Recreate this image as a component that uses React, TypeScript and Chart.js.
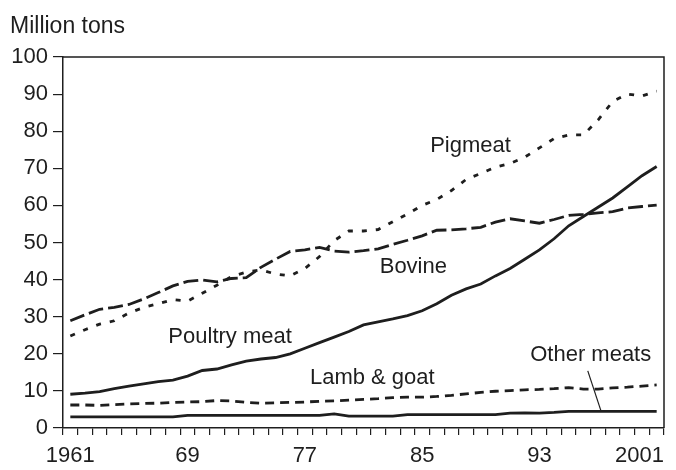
import React, { useEffect, useRef } from 'react';
import { Chart, registerables } from 'chart.js';

Chart.register(...registerables);

const years = [
  1961, 1962, 1963, 1964, 1965, 1966, 1967, 1968, 1969, 1970,
  1971, 1972, 1973, 1974, 1975, 1976, 1977, 1978, 1979, 1980,
  1981, 1982, 1983, 1984, 1985, 1986, 1987, 1988, 1989, 1990,
  1991, 1992, 1993, 1994, 1995, 1996, 1997, 1998, 1999, 2000, 2001,
];
const tickYears = [1961, 1969, 1977, 1985, 1993, 2001];
const tickLabels = ['1961', '69', '77', '85', '93', '2001'];

const pigmeat = [
  24.8, 26.5, 28.0, 28.9, 31.0, 32.5, 33.5, 34.6, 34.2, 36.3,
  38.5, 40.8, 42.0, 42.6, 41.5, 41.0, 43.0, 46.2, 50.5, 53.1,
  53.1, 53.5, 55.6, 57.7, 60.0, 61.6, 64.0, 67.0, 68.6, 70.3,
  71.3, 73.0, 75.5, 78.0, 79.0, 79.0, 83.0, 88.0, 90.0, 89.5, 90.8,
];
const bovine = [
  28.9, 30.5, 32.0, 32.5, 33.3, 34.8, 36.5, 38.3, 39.5, 39.9,
  39.4, 40.3, 40.5, 43.3, 45.5, 47.6, 48.0, 48.7, 47.7, 47.4,
  47.8, 48.3, 49.5, 50.6, 51.8, 53.3, 53.4, 53.7, 54.1, 55.5,
  56.4, 55.8, 55.2, 56.2, 57.3, 57.6, 58.0, 58.3, 59.3, 59.7, 60.1,
];
const poultry = [
  9.1, 9.4, 9.8, 10.6, 11.3, 11.9, 12.5, 12.9, 14.0, 15.5,
  15.9, 17.0, 18.0, 18.6, 19.0, 20.0, 21.5, 23.0, 24.5, 26.0,
  27.8, 28.6, 29.4, 30.3, 31.6, 33.5, 35.8, 37.5, 38.8, 41.0,
  43.0, 45.5, 48.0, 51.0, 54.5, 57.0, 59.5, 62.0, 65.0, 68.0, 70.5,
];
const lambGoat = [
  6.2, 6.2, 6.1, 6.3, 6.5, 6.6, 6.7, 6.9, 7.0, 7.1,
  7.4, 7.3, 6.9, 6.7, 6.8, 6.9, 7.0, 7.2, 7.3, 7.5,
  7.7, 7.9, 8.2, 8.3, 8.3, 8.5, 8.8, 9.2, 9.6, 9.9,
  10.1, 10.3, 10.4, 10.6, 10.9, 10.5, 10.5, 10.8, 11.0, 11.3, 11.6,
];
const otherMeats = [
  3.0, 3.0, 3.0, 3.0, 3.0, 3.0, 3.0, 3.0, 3.4, 3.4,
  3.4, 3.4, 3.4, 3.4, 3.4, 3.4, 3.4, 3.4, 3.8, 3.2,
  3.2, 3.2, 3.2, 3.6, 3.6, 3.6, 3.6, 3.6, 3.6, 3.6,
  4.0, 4.1, 4.0, 4.2, 4.5, 4.5, 4.5, 4.5, 4.5, 4.5, 4.5,
];

const annotationTexts = ['Pigmeat', 'Bovine', 'Poultry meat', 'Lamb & goat', 'Other meats'];
const annotationYears = [1988.3, 1984.4, 1971.9, 1981.6, 1996.5];
const annotationValues = [76.0, 43.4, 24.5, 13.5, 19.7];
const leaderYears = [1996.3, 1997.2];
const leaderValues = [15.4, 4.6];

const FONT = '"Liberation Sans", Arial, Helvetica, sans-serif';
const INK = '#1e1e1e';

const overlayPlugin = {
  id: 'overlay',
  afterDraw(chart: any) {
    const { ctx, chartArea, scales } = chart;
    const xs = scales.x;
    const ys = scales.y;
    const xOf = (yr: number) => xs.getPixelForValue(yr - years[0]);
    ctx.save();
    // frame top and right
    ctx.strokeStyle = INK;
    ctx.lineWidth = 1.5;
    ctx.beginPath();
    ctx.moveTo(chartArea.left, chartArea.top);
    ctx.lineTo(chartArea.right, chartArea.top);
    ctx.lineTo(chartArea.right, chartArea.bottom);
    ctx.stroke();

    ctx.fillStyle = INK;
    // axis unit title
    ctx.font = `23px ${FONT}`;
    ctx.textAlign = 'left';
    ctx.textBaseline = 'alphabetic';
    ctx.fillText('Million tons', 10, 33);

    // x tick labels
    ctx.font = `22px ${FONT}`;
    ctx.textBaseline = 'middle';
    ctx.textAlign = 'center';
    tickYears.forEach((yr, i) => {
      const txt = tickLabels[i];
      const w = ctx.measureText(txt).width;
      let cx = xOf(yr);
      if (cx + w / 2 > chartArea.right) cx = chartArea.right - w / 2;
      ctx.fillText(txt, cx, chartArea.bottom + 28);
    });

    // series annotations
    annotationTexts.forEach((txt, i) => {
      ctx.fillText(txt, xOf(annotationYears[i]), ys.getPixelForValue(annotationValues[i]));
    });

    // leader line for "Other meats"
    ctx.lineWidth = 1.2;
    ctx.beginPath();
    ctx.moveTo(xOf(leaderYears[0]), ys.getPixelForValue(leaderValues[0]));
    ctx.lineTo(xOf(leaderYears[1]), ys.getPixelForValue(leaderValues[1]));
    ctx.stroke();
    ctx.restore();
  },
};

function series(data: number[], dash: number[]) {
  return {
    data,
    borderColor: INK,
    borderWidth: 2.8,
    borderDash: dash,
    borderCapStyle: 'butt',
    pointRadius: 0,
    pointHoverRadius: 0,
    fill: false,
    tension: 0,
  };
}

export default function App() {
  const canvasRef = useRef<HTMLCanvasElement | null>(null);

  useEffect(() => {
    if (!canvasRef.current) return;
    const chart = new Chart(canvasRef.current, {
      type: 'line',
      data: {
        labels: years.map(String),
        datasets: [
          { label: 'Pigmeat', ...series(pigmeat, [5, 9]) },
          { label: 'Bovine', ...series(bovine, [15, 5]) },
          { label: 'Poultry meat', ...series(poultry, []) },
          { label: 'Lamb & goat', ...series(lambGoat, [9, 6]) },
          { label: 'Other meats', ...series(otherMeats, []) },
        ] as any,
      },
      options: {
        animation: false,
        responsive: false,
        devicePixelRatio: 1,
        layout: { padding: { left: 0, right: 12, top: 57, bottom: 0 } },
        plugins: {
          legend: { display: false },
          tooltip: { enabled: false },
          title: { display: false },
        },
        events: [],
        scales: {
          x: {
            type: 'category',
            offset: true,
            grid: {
              display: true,
              drawOnChartArea: false,
              drawTicks: true,
              tickLength: 7,
              offset: true,
              color: INK,
              lineWidth: 1.2,
            },
            border: { display: true, color: INK, width: 1.5 },
            ticks: { display: false, autoSkip: false },
            afterFit: (scale: any) => {
              scale.height = 42;
            },
          },
          y: {
            min: 0,
            max: 100,
            ticks: {
              stepSize: 10,
              color: INK,
              padding: 5,
              font: { family: FONT, size: 22 },
            },
            grid: {
              display: true,
              drawOnChartArea: false,
              drawTicks: true,
              tickLength: 10,
              color: INK,
              lineWidth: 1.2,
            },
            border: { display: true, color: INK, width: 1.5 },
            afterFit: (scale: any) => {
              scale.width = 63;
            },
          },
        },
      },
      plugins: [overlayPlugin],
    } as any);
    return () => chart.destroy();
  }, []);

  return (
    <div style={{ position: 'absolute', left: 0, top: 0, width: 676, height: 470, background: '#fff' }}>
      <canvas ref={canvasRef} width={676} height={470} style={{ display: 'block' }} />
    </div>
  );
}
